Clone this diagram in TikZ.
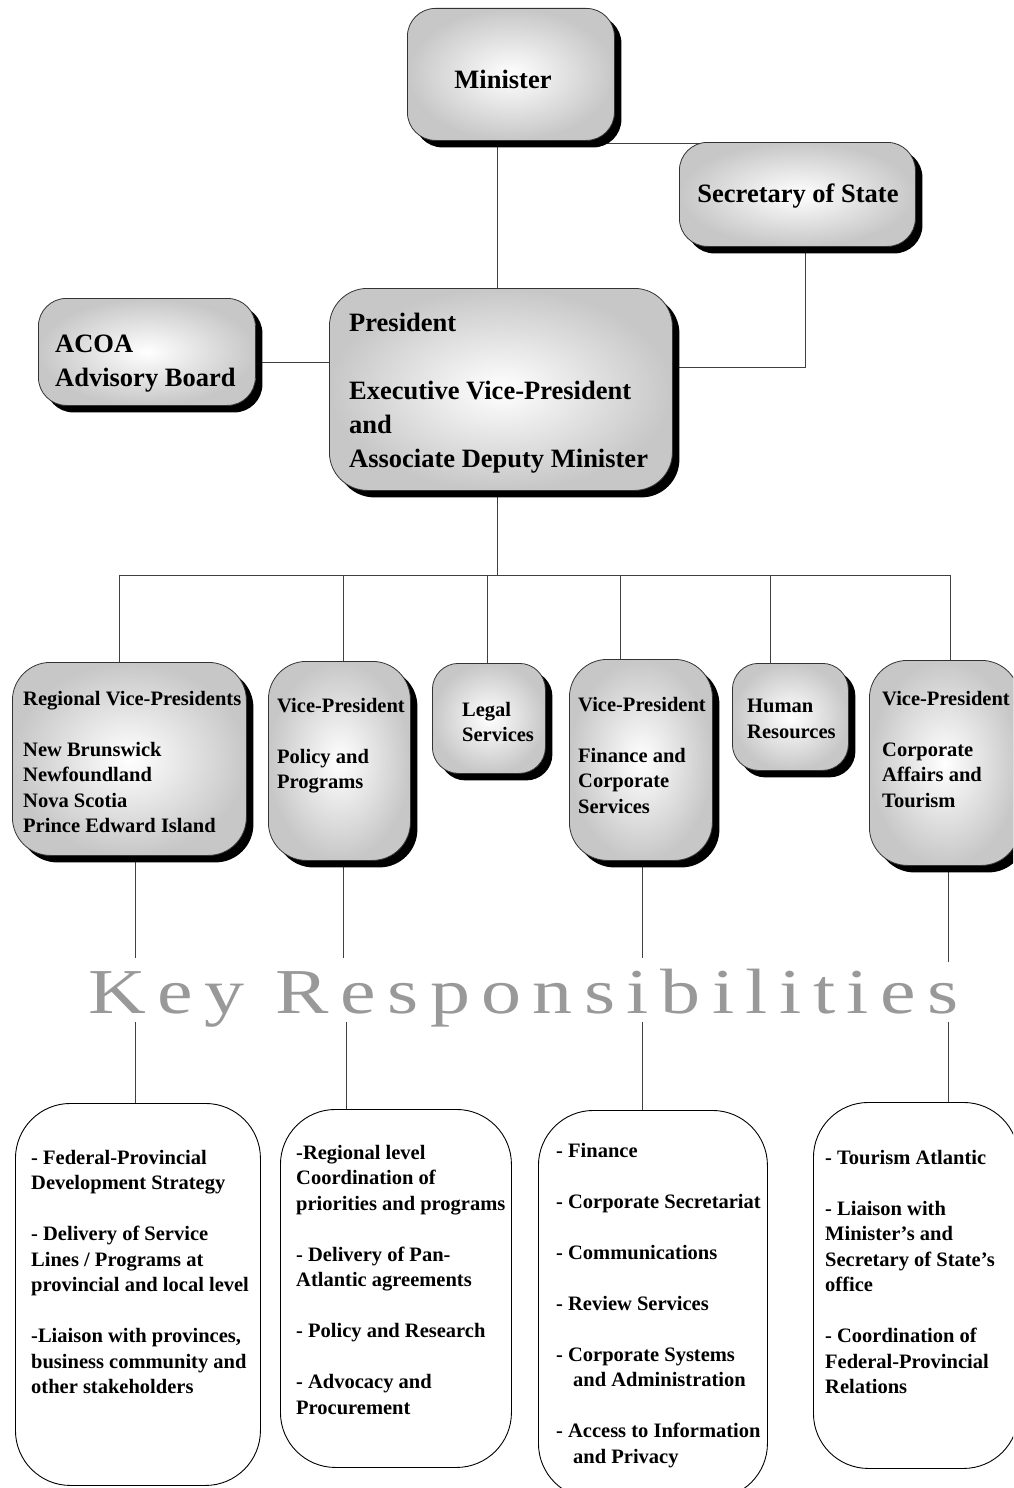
\documentclass[tikz,border=0pt]{standalone}
\usepackage{fontspec}
\usepackage{graphicx}
\setmainfont{Liberation Serif}
\usetikzlibrary{backgrounds,shadows}
\begin{document}
\begin{tikzpicture}[x=1pt,y=-1pt,
  gbox/.style={draw=black!80, line width=0.8pt, inner sep=0pt, anchor=north west,
    shade, inner color=white, outer color=black!22,
    drop shadow={shadow xshift=7pt, shadow yshift=-7pt, opacity=1, fill=black}},
  wbox/.style={draw=black, line width=0.9pt, fill=white, inner sep=0pt, anchor=north west, rounded corners=55pt},
  conn/.style={draw=black!75, line width=0.8pt},
  bigtxt/.style={font=\bfseries\fontsize{26.5}{34}\selectfont, inner sep=0pt, align=left},
  midtxt/.style={font=\bfseries\fontsize{20.5}{25.5}\selectfont, inner sep=0pt, align=left, anchor=north west},
]
\useasboundingbox (0,0) rectangle (1013,1488);
\clip (0,0) rectangle (1013,1488);

% top boxes
\node[gbox, rounded corners=28pt, minimum width=207pt, minimum height=132pt] (min) at (407,8) {};
\node[gbox, rounded corners=28pt, minimum width=236pt, minimum height=104pt] (sec) at (679,142) {};
\node[gbox, rounded corners=28pt, minimum width=217pt, minimum height=107pt] (acoa) at (38,298) {};
\node[gbox, rounded corners=38pt, minimum width=343pt, minimum height=202pt] (pres) at (329,288) {};

% middle boxes
\node[gbox, rounded corners=38pt, minimum width=234pt, minimum height=193pt] (reg) at (12,662) {};
\node[gbox, rounded corners=38pt, minimum width=142pt, minimum height=199pt] (pol) at (268,661) {};
\node[gbox, rounded corners=26pt, minimum width=113pt, minimum height=110pt] (leg) at (432,663) {};
\node[gbox, rounded corners=38pt, minimum width=143pt, minimum height=201pt] (fin) at (569,659) {};
\node[gbox, rounded corners=26pt, minimum width=116pt, minimum height=107pt] (hr) at (732,663) {};
\node[gbox, rounded corners=38pt, minimum width=150pt, minimum height=205pt] (corp) at (869,660) {};

% bottom boxes
\node[wbox, minimum width=245pt, minimum height=382pt] (b1) at (15,1103) {};
\node[wbox, minimum width=231pt, minimum height=358pt] (b2) at (280,1109) {};
\node[wbox, minimum width=229pt, minimum height=388pt] (b3) at (538,1110) {};
\node[wbox, minimum width=205pt, minimum height=366pt] (b4) at (813,1102) {};

% texts
\node[bigtxt] (tmin) at (503,79) {Minister};
\node[bigtxt] (tsec) at (798,196) {Secretary of State};
\node[bigtxt, anchor=north west] (tacoa) at (55,335) {ACOA\\Advisory Board};
\node[bigtxt, anchor=north west] (tpres) at (349,313) {President\\[34pt]Executive Vice-President\\and\\Associate Deputy Minister};

\node[midtxt] (treg) at (23,691) {Regional Vice-Presidents\\[25.5pt]New Brunswick\\Newfoundland\\Nova Scotia\\Prince Edward Island};
\node[midtxt] (tpol) at (277,698) {Vice-President\\[25.5pt]Policy and\\Programs};
\node[midtxt] (tleg) at (462,702) {Legal\\Services};
\node[midtxt] (tfin) at (578,697) {Vice-President\\[25.5pt]Finance and\\Corporate\\Services};
\node[midtxt] (thr) at (747,699) {Human\\Resources};
\node[midtxt] (tcorp) at (882,691) {Vice-President\\[25.5pt]Corporate\\Affairs and\\Tourism};

\node[midtxt] (tb1) at (31,1150) {- Federal-Provincial\\Development Strategy\\[25.5pt]- Delivery of Service\\Lines / Programs at\\provincial and local level\\[25.5pt]-Liaison with provinces,\\business community and\\other stakeholders};
\node[midtxt] (tb2) at (296,1145) {-Regional level\\Coordination of\\priorities and programs\\[25.5pt]- Delivery of Pan-\\Atlantic agreements\\[25.5pt]- Policy and Research\\[25.5pt]- Advocacy and\\Procurement};
\node[midtxt] (tb3) at (556,1143) {- Finance\\[25.5pt]- Corporate Secretariat\\[25.5pt]- Communications\\[25.5pt]- Review Services\\[25.5pt]- Corporate Systems\\\hspace*{17pt}and Administration\\[25.5pt]- Access to Information\\\hspace*{17pt}and Privacy};
\node[midtxt] (tb4) at (825,1150) {- Tourism Atlantic\\[25.5pt]- Liaison with\\Minister’s and\\Secretary of State’s\\office\\[25.5pt]- Coordination of\\Federal-Provincial\\Relations};

\node[font=\fontsize{64}{66}\selectfont\addfontfeature{LetterSpace=14.3}, text=black!40, anchor=base west, inner sep=0pt] (key) at (88,1013) {\scalebox{1.25}[1]{Key Responsibilities}};

% connectors
\begin{scope}[on background layer]
\coordinate (bus) at (497,575);
\draw[conn] (bus |- min.center) -- (bus);
\draw[conn] ([yshift=-1pt]sec.north -| min.center) -- ([yshift=-1pt]sec.north);
\draw[conn] ([xshift=8pt]sec.center) |- ([yshift=22pt]pres.center);
\draw[conn] ([yshift=-10pt]acoa.center) -- ([yshift=-10pt]acoa.center -| pres.center);
\coordinate (d1) at (119,575);
\coordinate (d2) at (343,575);
\coordinate (d3) at (487,575);
\coordinate (d4) at (620,575);
\coordinate (d5) at (770,575);
\coordinate (d6) at (950,575);
\draw[conn] (d1) -- (d6);
\draw[conn] (d1) -- (d1 |- reg.center);
\draw[conn] (d2) -- (d2 |- pol.center);
\draw[conn] (d3) -- (d3 |- leg.center);
\draw[conn] (d4) -- (d4 |- fin.center);
\draw[conn] (d5) -- (d5 |- hr.center);
\draw[conn] (d6) -- (d6 |- corp.center);
\coordinate (u1) at (135,958);
\coordinate (u2) at (343,958);
\coordinate (u3) at (642,958);
\coordinate (u4) at (948,962);
\coordinate (l1) at (135,1022);
\coordinate (l2) at (346,1022);
\coordinate (l3) at (642,1022);
\coordinate (l4) at (948,1022);
\draw[conn] (u1 |- reg.center) -- (u1);
\draw[conn] (u2 |- pol.center) -- (u2);
\draw[conn] (u3 |- fin.center) -- (u3);
\draw[conn] (u4 |- corp.center) -- (u4);
\draw[conn] (l1) -- (l1 |- b1.center);
\draw[conn] (l2) -- (l2 |- b2.center);
\draw[conn] (l3) -- (l3 |- b3.center);
\draw[conn] (l4) -- (l4 |- b4.center);
\end{scope}
\end{tikzpicture}
\end{document}
